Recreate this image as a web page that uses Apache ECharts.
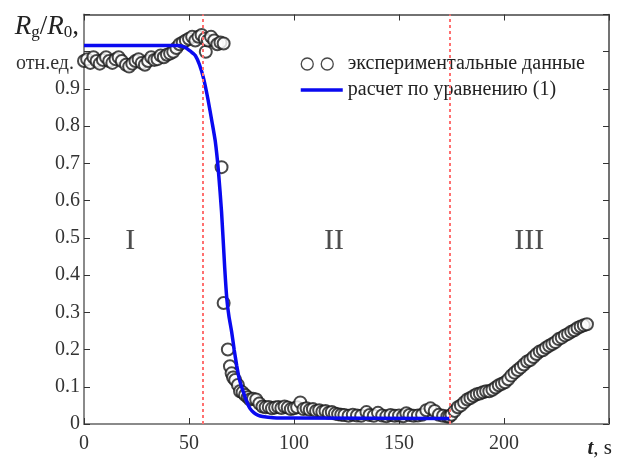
<!DOCTYPE html>
<html>
<head>
<meta charset="utf-8">
<script src="https://cdn.jsdelivr.net/npm/echarts@6/dist/echarts.min.js"></script>
<style>html,body{margin:0;padding:0;background:#fff}#c{width:629px;height:459px}</style>
</head>
<body>
<div id="c"></div>
<script>
// Experimental data: time (s) and Rg/R0
var expT = [0,1.5,3,4.5,6,7.5,9,10.5,12,13.5,15,16.5,18,20,21.5,23,24.5,26,27.5,29,30.5,32,33.5,35,36.5,38,39.5,41,42.5,44,45.5,47,48.5,50,51.5,53,54.5,56,57.5,58,59,60.5,62,63.5,65,66.5,
  65.5,66.5,68.5,69.5,70.3,71,72,73.3,74.3,75.5,76.7,78,79,80.5,82,83.5,85,86.5,88,89.5,91,92.5,94,95.5,97,98.5,100,101.5,103,104.5,106,107.5,109,110.5,112,113.5,115,116.5,118,119.5,121,122.5,124,126,128,130,132,134.5,136,138,140,142,144,146,148,150,152,153.5,155,157,159,161,163,165,167,169,171,173,
  174,175,176.5,178,179.5,181,182.5,184,185.5,187,188.5,190,191.5,193,194.5,196,197.5,199,200.5,202,203.5,205,206.5,208,209.5,211,212.5,214,215.5,217,218.5,220,221.5,223,224.5,226,227.5,229,230.5,232,233.5,235,236.5,238,239.5];
var expV = [0.975,0.98,0.97,0.985,0.975,0.968,0.978,0.985,0.975,0.97,0.98,0.985,0.975,0.965,0.96,0.968,0.975,0.98,0.97,0.965,0.975,0.985,0.978,0.98,0.99,0.985,0.992,0.995,1.0,1.01,1.02,1.025,1.03,1.035,1.04,1.03,1.04,1.045,1.035,1.0,1.03,1.04,1.03,1.02,1.025,1.022,
  0.69,0.325,0.2,0.155,0.136,0.125,0.118,0.105,0.088,0.085,0.078,0.072,0.066,0.068,0.066,0.055,0.047,0.045,0.046,0.042,0.044,0.046,0.043,0.047,0.044,0.04,0.042,0.045,0.058,0.04,0.042,0.038,0.04,0.035,0.037,0.033,0.035,0.03,0.032,0.028,0.026,0.025,0.024,0.022,0.025,0.023,0.022,0.032,0.024,0.022,0.03,0.023,0.021,0.024,0.022,0.023,0.021,0.029,0.024,0.022,0.023,0.025,0.037,0.042,0.035,0.025,0.022,0.02,
  0.02,0.025,0.035,0.045,0.05,0.058,0.066,0.07,0.075,0.08,0.082,0.085,0.088,0.088,0.092,0.098,0.104,0.108,0.112,0.12,0.13,0.138,0.145,0.152,0.16,0.168,0.172,0.18,0.188,0.195,0.198,0.205,0.21,0.215,0.22,0.228,0.232,0.238,0.242,0.248,0.252,0.258,0.262,0.265,0.268];
// Calculated curve (equation 1)
var calcT = [0,45,48,51,53,55,57,59,61,62.5,64,65.5,67,68,69,70.3,71.5,72.7,74,75.8,77.5,79,81,83,85,90,100,174];
var calcV = [1.017,1.017,1.012,1.0,0.99,0.965,0.927,0.873,0.81,0.76,0.68,0.57,0.42,0.337,0.29,0.248,0.2,0.158,0.12,0.087,0.06,0.042,0.03,0.023,0.02,0.017,0.016,0.015];
// Stage boundaries and stage labels
var boundaries = [56.7, 174];
var stageNames = ['I', 'II', 'III'];
var stageT = [22, 119, 212];
var stageV = [0.49, 0.49, 0.49];
var xTicks = [0, 50, 100, 150, 200];
var seriesNames = ['экспериментальные данные', 'расчет по уравнению (1)'];

var expData = expT.map(function (t, i) { return [t, expV[i]]; });
var calcData = calcT.map(function (t, i) { return [t, calcV[i]]; });
var stageData = stageNames.map(function (n, i) { return { name: n, value: [stageT[i], stageV[i]] }; });

var serif = '"Liberation Serif", "DejaVu Serif", serif';
var ink = '#222';
var chart = echarts.init(document.getElementById('c'), null, { renderer: 'canvas' });
chart.setOption({
  animation: false,
  backgroundColor: '#fff',
  grid: { left: 84, right: 20, top: 14.5, bottom: 33.3, containLabel: false },
  legend: {
    data: [
      { name: seriesNames[0], icon: 'path://M6.5,0.5A6,6,0,1,1,6.5,12.5A6,6,0,1,1,6.5,0.5Z M26.5,0.5A6,6,0,1,1,26.5,12.5A6,6,0,1,1,26.5,0.5Z M42,0L42,0.01 M0,13L0,12.99',
        itemStyle: { color: 'rgba(0,0,0,0)', borderColor: '#1a1a1a', borderWidth: 1.3 } },
      { name: seriesNames[1], itemStyle: { opacity: 0 }, lineStyle: { width: 3.5, color: '#0a0af0' } }
    ],
    orient: 'vertical',
    left: 294,
    top: 49,
    itemWidth: 42,
    itemHeight: 14,
    itemGap: 6,
    textStyle: { fontFamily: serif, fontSize: 20, color: ink },
    selectedMode: false
  },
  xAxis: [{
    type: 'value', min: 0, max: 250, interval: 50,
    name: '{b|t}{n|, s}',
    nameLocation: 'end', nameGap: 3,
    nameTextStyle: { align: 'right', verticalAlign: 'top', padding: [14, 0, 0, 0],
      rich: {
        b: { fontFamily: serif, fontSize: 21, fontStyle: 'italic', fontWeight: 'bold', color: ink },
        n: { fontFamily: serif, fontSize: 21, color: ink }
      } },
    axisLine: { onZero: false, lineStyle: { color: '#8a8a8a', width: 2 } },
    axisTick: { inside: true, length: 6, lineStyle: { color: '#333' } },
    axisLabel: { fontFamily: serif, fontSize: 20, color: '#333', margin: 10,
      formatter: function (v) { return xTicks.indexOf(v) >= 0 ? String(v) : ''; } },
    splitLine: { show: false }
  }, {
    type: 'value', min: 0, max: 250, interval: 50, position: 'top',
    axisLine: { onZero: false, lineStyle: { color: '#444', width: 1.5 } },
    axisTick: { inside: true, length: 6, lineStyle: { color: '#333' } },
    axisLabel: { show: false }, splitLine: { show: false }
  }],
  yAxis: [{
    type: 'value', min: 0, max: 1.1, interval: 0.1,
    name: '{i|R}{s|g}{n|/}{i|R}{s|0}{n|,}',
    nameLocation: 'end', nameGap: -27,
    nameTextStyle: {
      align: 'right', verticalAlign: 'bottom', padding: [0, 5, 0, 0],
      rich: {
        i: { fontFamily: serif, fontSize: 27, fontStyle: 'italic', color: ink },
        n: { fontFamily: serif, fontSize: 27, color: ink },
        s: { fontFamily: serif, fontSize: 17, color: ink, padding: [13, 0, 0, 0] }
      }
    },
    axisLine: { onZero: false, lineStyle: { color: '#8a8a8a', width: 2 } },
    axisTick: { inside: true, length: 6, lineStyle: { color: '#333' } },
    axisLabel: {
      fontFamily: serif, fontSize: 20, color: '#333', margin: 4,
      formatter: function (v) {
        if (v > 1.05) return '';
        if (Math.abs(v - 1) < 1e-6) return '{u|отн.ед.}';
        if (v === 0) return '0';
        return v.toFixed(1);
      },
      rich: { u: { fontFamily: serif, fontSize: 20, color: '#333', padding: [24, 6, 0, 0] } }
    },
    splitLine: { show: false }
  }, {
    type: 'value', min: 0, max: 1.1, interval: 0.1, position: 'right',
    axisLine: { onZero: false, lineStyle: { color: '#444', width: 1.5 } },
    axisTick: { inside: true, length: 6, lineStyle: { color: '#333' } },
    axisLabel: { show: false }, splitLine: { show: false }
  }],
  series: [{
    name: seriesNames[0],
    type: 'scatter',
    data: expData,
    symbol: 'emptyCircle',
    symbolSize: 12,
    itemStyle: { color: '#1a1a1a', borderColor: '#1a1a1a', borderWidth: 1 },
    z: 3
  }, {
    name: seriesNames[1],
    type: 'line',
    data: calcData,
    showSymbol: false,
    symbol: 'none',
    smooth: 0.2,
    lineStyle: { color: '#0a0af0', width: 3.5 },
    itemStyle: { color: '#0a0af0' },
    z: 4,
    markLine: {
      silent: true,
      symbol: 'none',
      label: { show: false },
      lineStyle: { color: '#ff7070', type: [3, 3], width: 2 },
      data: boundaries.map(function (b) { return { xAxis: b }; })
    }
  }, {
    name: 'stages',
    type: 'scatter',
    data: stageData,
    symbolSize: 0,
    silent: true,
    label: { show: true, position: 'inside', formatter: '{b}', fontFamily: serif, fontSize: 30, color: ink },
    z: 2
  }]
});
</script>
</body>
</html>
